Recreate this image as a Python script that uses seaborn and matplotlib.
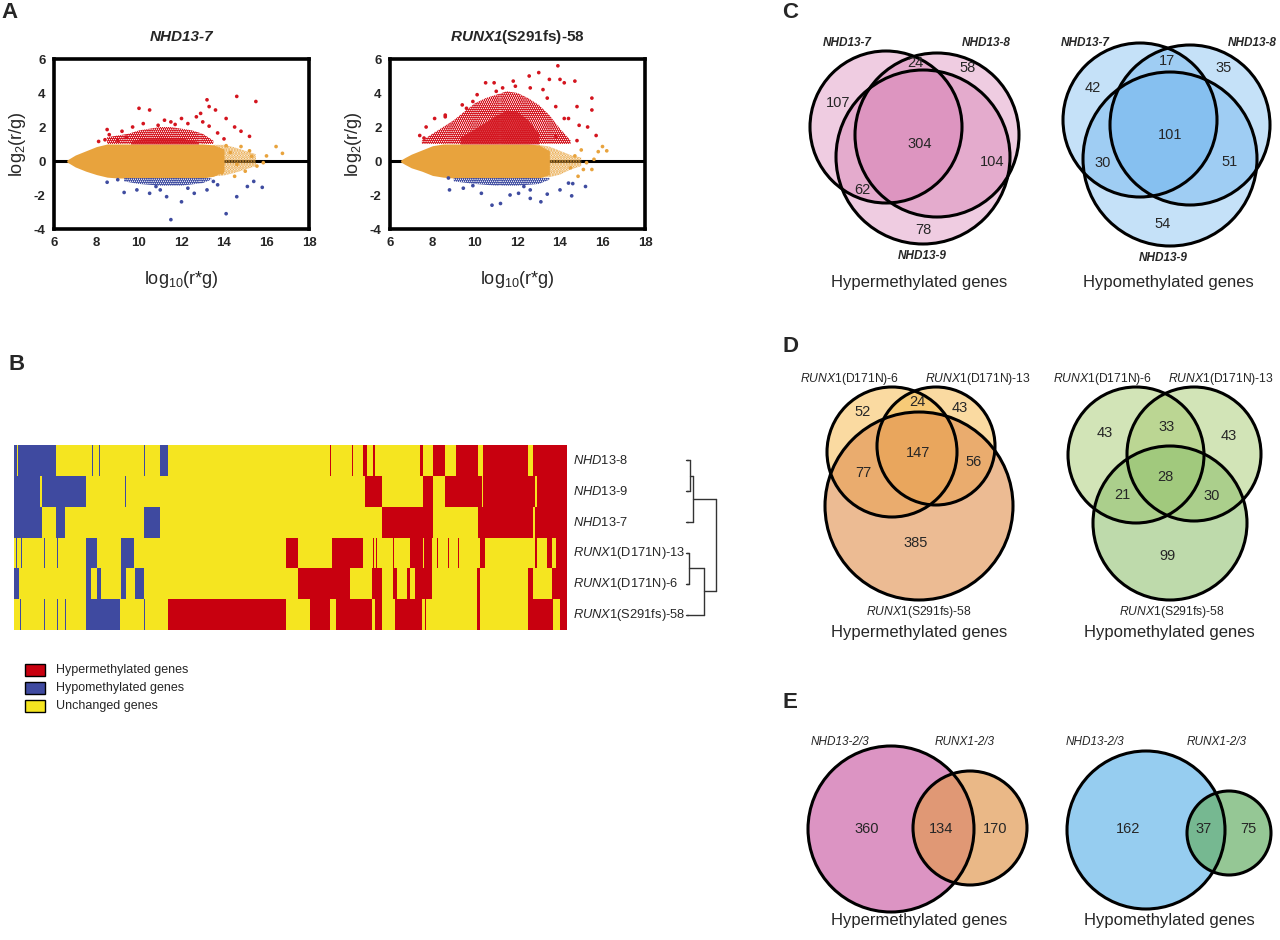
import numpy as np
import pandas as pd
import matplotlib
matplotlib.use("Agg")
import matplotlib.pyplot as plt
import seaborn as sns
from matplotlib.patches import Circle, Rectangle
from matplotlib.colors import ListedColormap

sns.set_style("white")
plt.rcParams['font.family'] = ['Liberation Sans', 'DejaVu Sans']
plt.rcParams['mathtext.fontset'] = 'custom'
plt.rcParams['mathtext.rm'] = 'Liberation Sans'
plt.rcParams['mathtext.it'] = 'Liberation Sans:italic'
plt.rcParams['mathtext.bf'] = 'Liberation Sans:bold'
plt.rcParams['mathtext.bfit'] = 'Liberation Sans:italic:bold'
plt.rcParams['axes.unicode_minus'] = False
plt.rcParams['hatch.linewidth'] = 1.6

# -------------------------------
# DATA  -  A: MA plots
# -------------------------------
ma_titles = ['NHD13-7', r'$\mathbfit{RUNX1}$(S291fs)-58']
ma_title_style = ['italic', 'normal']

# dense unchanged cloud (envelope)
nhd_core_x = [6.6, 6.8, 7.0, 7.5, 8.0, 8.5, 9.0, 10, 11, 12, 13, 13.5, 14.0]
nhd_core_up = [0.05, 0.2, 0.35, 0.6, 0.85, 1.0, 1.0, 1.0, 1.0, 1.0, 1.0, 0.95, 0.7]
nhd_core_lo = [-0.05, -0.2, -0.35, -0.6, -0.8, -0.95, -1.0, -1.0, -1.0, -1.0, -1.0, -0.9, -0.6]
nhd_sparse_x = [13.5, 14.0, 14.5, 15.0, 15.5]
nhd_sparse_up = [0.95, 0.95, 0.8, 0.6, 0.4]
nhd_sparse_lo = [-0.9, -0.85, -0.7, -0.5, -0.3]
nhd_or_x = [16.75, 16.45, 16.0, 15.85, 15.55, 15.3, 15.0, 14.8, 14.5, 14.3, 14.6, 15.2, 13.9, 14.1]
nhd_or_y = [0.45, 0.85, 0.3, -0.1, -0.3, 0.28, -0.6, 0.85, -0.9, 0.5, -0.2, 0.6, -0.7, 0.9]
# hyper band + outliers
nhd_redband_x = [8.5, 9.0, 9.5, 10, 10.5, 11, 11.5, 12, 12.5, 13, 13.5]
nhd_redband_up = [1.4, 1.5, 1.6, 1.8, 1.9, 2.0, 2.0, 1.9, 1.8, 1.6, 1.2]
nhd_redcore_x = [9.6, 10.0, 11.0, 12.0, 12.8]
nhd_redcore_up = [1.15, 1.3, 1.4, 1.35, 1.15]
nhd_red_x = [13.2, 14.6, 15.5, 10.0, 10.5, 13.3, 13.6, 12.7, 14.1, 14.5, 14.8, 15.2, 8.5, 8.6, 9.2, 9.7,
             10.9, 11.7, 12.3, 13.0, 13.3, 13.7, 8.4, 8.1, 9.0, 9.4, 11.2, 12.0, 12.9, 14.0, 11.5, 10.2]
nhd_red_y = [3.6, 3.8, 3.5, 3.1, 3.0, 3.2, 3.0, 2.6, 2.5, 2.0, 1.75, 1.45, 1.85, 1.55, 1.75, 2.0,
             2.1, 2.15, 2.2, 2.3, 2.05, 1.65, 1.25, 1.15, 1.2, 1.4, 2.4, 2.5, 2.8, 1.3, 2.3, 2.2]
# hypo band + outliers
nhd_blueband_x = [9.3, 10, 11, 12, 13, 13.4]
nhd_blueband_lo = [-1.2, -1.35, -1.45, -1.45, -1.3, -1.1]
nhd_blue_x = [8.5, 9.3, 9.9, 10.5, 11.3, 12.0, 12.6, 11.5, 14.1, 14.6, 15.1, 15.8, 15.4, 13.2, 13.7, 10.8,
              9.0, 12.3, 11.0, 13.5]
nhd_blue_y = [-1.25, -1.85, -1.7, -1.9, -2.1, -2.4, -1.9, -3.45, -3.1, -2.1, -1.5, -1.55, -1.2, -1.7, -1.4, -1.5,
              -1.1, -1.6, -1.7, -1.2]

runx_core_x = [6.5, 6.7, 7.0, 7.5, 8.0, 8.5, 9.0, 10, 11, 12, 12.5, 13.0, 13.5]
runx_core_up = [0.05, 0.2, 0.4, 0.65, 0.9, 1.0, 1.0, 1.0, 1.0, 1.0, 1.0, 0.95, 0.6]
runx_core_lo = [-0.05, -0.2, -0.4, -0.6, -0.85, -0.95, -1.0, -1.0, -1.0, -1.0, -1.0, -1.0, -0.8]
runx_sparse_x = [13.0, 13.5, 14.0, 14.5, 15.0]
runx_sparse_up = [0.95, 0.85, 0.6, 0.35, 0.2]
runx_sparse_lo = [-1.0, -0.95, -0.8, -0.5, -0.3]
runx_or_x = [15.6, 16.0, 15.8, 15.25, 15.1, 14.85, 14.5, 14.7, 15.0, 16.2, 15.5]
runx_or_y = [0.1, 0.85, 0.55, -0.1, -0.5, -0.9, -0.4, 0.3, 0.65, 0.6, -0.5]
runx_redband_x = [7.5, 8.0, 8.5, 9, 9.5, 10, 10.5, 11, 11.5, 12, 12.5, 13, 13.5, 14, 14.5]
runx_redband_up = [1.2, 1.6, 2.0, 2.4, 2.9, 3.4, 3.7, 3.9, 4.1, 4.0, 3.7, 3.3, 2.7, 1.9, 1.2]
runx_redcore_x = [9.3, 10.0, 10.5, 11.0, 11.5, 12.0, 12.5, 13.0]
runx_redcore_up = [1.4, 1.9, 2.3, 2.7, 3.0, 2.9, 2.4, 1.6]
runx_red_x = [13.9, 13.0, 12.55, 13.5, 10.5, 10.9, 11.8, 14.7, 14.2, 14.0, 15.5, 15.5, 14.8, 14.4, 14.9, 15.3,
              15.7, 14.8, 8.1, 8.6, 8.6, 7.7, 7.4, 7.6, 9.4, 9.6, 9.9, 10.1, 11.0, 11.3, 11.9, 12.6,
              13.2, 13.4, 13.8, 14.2, 13.8]
runx_red_y = [5.6, 5.2, 5.0, 4.8, 4.6, 4.6, 4.7, 4.7, 4.6, 4.8, 3.7, 3.0, 3.2, 2.5, 2.1, 2.0,
              1.5, 1.2, 2.5, 2.7, 2.6, 2.0, 1.5, 1.35, 3.3, 3.1, 3.5, 3.9, 4.1, 4.3, 4.4, 4.3,
              4.2, 3.7, 3.2, 2.5, 1.45]
runx_blueband_x = [9.0, 10, 11, 12, 13, 13.5]
runx_blueband_lo = [-1.2, -1.35, -1.45, -1.45, -1.35, -1.1]
runx_blue_x = [8.75, 8.8, 9.45, 9.9, 10.3, 10.8, 11.2, 11.65, 12.05, 12.6, 13.1, 13.4, 14.0, 14.55, 14.4,
               14.6, 15.2, 12.6, 12.3]
runx_blue_y = [-1.0, -1.7, -1.6, -1.45, -1.9, -2.6, -2.5, -2.0, -1.9, -2.2, -2.4, -1.95, -1.7, -2.05, -1.3,
               -1.33, -1.5, -1.7, -1.5]

# -------------------------------
# DATA  -  B: methylation status heatmap (gene index segments)
# -------------------------------
sample_labels = [r'$\it{NHD13}$-8', r'$\it{NHD13}$-9', r'$\it{NHD13}$-7',
                 r'$\it{RUNX1}$(D171N)-13', r'$\it{RUNX1}$(D171N)-6', r'$\it{RUNX1}$(S291fs)-58']
n_genes = 552
hypo_segments = [
    [(0, 3), (4, 42), (78, 79), (85, 86), (130, 131), (146, 154)],
    [(0, 26), (28, 72), (111, 112)],
    [(0, 28), (42, 51), (130, 146)],
    [(2, 3), (7, 8), (30, 31), (43, 44), (72, 83), (107, 120)],
    [(0, 5), (72, 77), (83, 87), (107, 112), (121, 130)],
    [(6, 7), (30, 31), (43, 44), (51, 52), (72, 106), (130, 131)],
]
hyper_segments = [
    [(315, 316), (337, 338), (348, 352), (358, 360), (405, 408), (418, 430), (441, 463), (468, 513), (518, 552)],
    [(350, 367), (408, 418), (430, 467), (468, 520), (522, 552)],
    [(367, 418), (463, 518), (520, 552)],
    [(272, 283), (317, 348), (358, 359), (361, 362), (378, 379), (395, 408), (409, 417), (422, 423),
     (433, 434), (443, 444), (465, 470), (520, 522), (532, 537), (541, 552)],
    [(283, 335), (357, 367), (378, 382), (392, 395), (400, 417), (462, 465), (513, 518), (537, 552)],
    [(154, 272), (295, 315), (321, 357), (360, 367), (380, 407), (410, 411), (462, 465), (513, 538), (545, 552)],
]
# dendrogram merges: (child a, child b, height); leaves 0-5 top to bottom
dendro_merges = [(0, 1, 3), (6, 2, 6), (3, 4, 2), (8, 5, 17), (7, 9, 29)]
status_names = ['Hypermethylated genes', 'Hypomethylated genes', 'Unchanged genes']

# -------------------------------
# DATA  -  C/D/E: Venn counts
# -------------------------------
venn_titles = ['Hypermethylated genes', 'Hypomethylated genes']
c_sets = ['NHD13-7', 'NHD13-8', 'NHD13-9']
c_hyper = {'a': 107, 'b': 58, 'c': 78, 'ab': 24, 'ac': 62, 'bc': 104, 'abc': 304}
c_hypo = {'a': 42, 'b': 35, 'c': 54, 'ab': 17, 'ac': 30, 'bc': 51, 'abc': 101}
d_sets = [r'$\it{RUNX1}$(D171N)-6', r'$\it{RUNX1}$(D171N)-13', r'$\it{RUNX1}$(S291fs)-58']
d_hyper = {'a': 52, 'b': 43, 'c': 385, 'ab': 24, 'ac': 77, 'bc': 56, 'abc': 147}
d_hypo = {'a': 43, 'b': 43, 'c': 99, 'ab': 33, 'ac': 21, 'bc': 30, 'abc': 28}
e_sets = ['NHD13-2/3', 'RUNX1-2/3']
e_hyper = {'a': 360, 'ab': 134, 'b': 170}
e_hypo = {'a': 162, 'ab': 37, 'b': 75}

# -------------------------------
# COLOURS
# -------------------------------
RED = '#d4151f'
ORANGE = '#e8a33d'
BLUE = '#3f4ca0'
HM_RED, HM_BLUE, HM_YEL = '#c8000f', '#3f4aa0', '#f5e520'

W, H = 1280, 940
fig = plt.figure(figsize=(12.8, 9.4), dpi=100)


def px_axes(x0, y0, x1, y1):
    return fig.add_axes([x0 / W, 1 - y1 / H, (x1 - x0) / W, (y1 - y0) / H])


def draw_ma(ax, title, tstyle, core, sparse, orange_pts, redband, redcore, red_pts, blueband, blue_pts):
    ax.axhline(0, color='black', lw=2.2, zorder=1)
    ax.fill_between(sparse[0], sparse[2], sparse[1], facecolor='none', edgecolor=ORANGE,
                    hatch='......', lw=0, zorder=2)
    ax.fill_between(core[0], core[2], core[1], color=ORANGE, lw=0, zorder=2)
    ax.fill_between(redband[0], 1.0, redband[1], facecolor='none', edgecolor=RED,
                    hatch='........', lw=0, zorder=2)
    ax.fill_between(redcore[0], 1.0, redcore[1], color=RED, alpha=0.8, lw=0, zorder=2)
    ax.fill_between(blueband[0], blueband[1], -1.0, facecolor='none', edgecolor=BLUE,
                    hatch='........', lw=0, zorder=2)
    pts = pd.DataFrame({
        'x': list(orange_pts[0]) + list(red_pts[0]) + list(blue_pts[0]),
        'y': list(orange_pts[1]) + list(red_pts[1]) + list(blue_pts[1]),
        'cls': ['u'] * len(orange_pts[0]) + ['r'] * len(red_pts[0]) + ['b'] * len(blue_pts[0]),
    })
    sns.scatterplot(data=pts, x='x', y='y', hue='cls', palette={'u': ORANGE, 'r': RED, 'b': BLUE},
                    s=7, linewidth=0, legend=False, ax=ax, zorder=3)
    ax.set_xlim(6, 18)
    ax.set_ylim(-4, 6)
    ax.set_xticks(range(6, 19, 2))
    ax.set_yticks(range(-4, 7, 2))
    for s in ax.spines.values():
        s.set_linewidth(2.6)
        s.set_color('black')
    ax.tick_params(direction='out', length=4, width=2, labelsize=9.5, pad=2)
    for t in ax.get_xticklabels() + ax.get_yticklabels():
        t.set_fontweight('bold')
    ax.set_xlabel(r'log$_{10}$(r*g)', fontsize=13, labelpad=14)
    ax.set_ylabel(r'log$_{2}$(r/g)', fontsize=13, labelpad=4)
    ax.set_title(title, fontsize=11, fontweight='bold', fontstyle=tstyle, pad=13)


ax1 = px_axes(54, 59, 309, 229)
draw_ma(ax1, ma_titles[0], ma_title_style[0], (nhd_core_x, nhd_core_up, nhd_core_lo),
        (nhd_sparse_x, nhd_sparse_up, nhd_sparse_lo), (nhd_or_x, nhd_or_y),
        (nhd_redband_x, nhd_redband_up), (nhd_redcore_x, nhd_redcore_up), (nhd_red_x, nhd_red_y),
        (nhd_blueband_x, nhd_blueband_lo), (nhd_blue_x, nhd_blue_y))
ax2 = px_axes(390, 59, 645, 229)
draw_ma(ax2, ma_titles[1], ma_title_style[1], (runx_core_x, runx_core_up, runx_core_lo),
        (runx_sparse_x, runx_sparse_up, runx_sparse_lo), (runx_or_x, runx_or_y),
        (runx_redband_x, runx_redband_up), (runx_redcore_x, runx_redcore_up), (runx_red_x, runx_red_y),
        (runx_blueband_x, runx_blueband_lo), (runx_blue_x, runx_blue_y))

# -------------------------------
# B: heatmap
# -------------------------------
status = np.zeros((len(sample_labels), n_genes))
for i in range(len(sample_labels)):
    for a, b in hypo_segments[i]:
        status[i, a:b] = -1
    for a, b in hyper_segments[i]:
        status[i, a:b] = 1
axh = px_axes(14, 445, 567, 630)
sns.heatmap(status, ax=axh, cmap=ListedColormap([HM_BLUE, HM_YEL, HM_RED]), vmin=-1, vmax=1,
            cbar=False, xticklabels=False, yticklabels=False)

# overlay in pixel space for text, dendrogram, legend and Venns
ov = fig.add_axes([0, 0, 1, 1])
ov.set_xlim(0, W)
ov.set_ylim(H, 0)
ov.axis('off')

row_top, row_h = 445, 185 / 6
for i, lab in enumerate(sample_labels):
    ov.text(573, row_top + row_h * (i + 0.5), lab, fontsize=9.3, va='center', ha='left')

# dendrogram
leaf_x0, dscale = 687, 1.0
node_y = {i: row_top + row_h * (i + 0.5) for i in range(6)}
node_h = {i: 0.0 for i in range(6)}
for k, (a, b, h) in enumerate(dendro_merges):
    nid = 6 + k
    xm = leaf_x0 + h * dscale
    for c in (a, b):
        ov.plot([leaf_x0 + node_h[c] * dscale, xm], [node_y[c], node_y[c]], color='#333333', lw=1.0)
    ov.plot([xm, xm], [node_y[a], node_y[b]], color='#333333', lw=1.0)
    node_y[nid] = (node_y[a] + node_y[b]) / 2
    node_h[nid] = h
for i in range(6):
    ov.plot([leaf_x0 - 1, leaf_x0 + 0.5], [node_y[i], node_y[i]], color='#333333', lw=1.0)

# legend
for i, (name, col) in enumerate(zip(status_names, [HM_RED, HM_BLUE, HM_YEL])):
    yc = 670 + 18 * i
    ov.add_patch(Rectangle((25, yc - 6), 20, 12, facecolor=col, edgecolor='black', lw=1.0))
    ov.text(56, yc, name, fontsize=9, va='center', ha='left')

# panel letters
for letter, (lx, ly) in zip('ABCDE', [(1, 13), (9, 364), (782, 12), (782, 346), (783, 703)]):
    ov.text(lx, ly, letter, fontsize=16, fontweight='bold', va='center', ha='left')


# -------------------------------
# Venn diagrams
# -------------------------------
def venn(circles, counts, count_pos, labels, label_pos, title, title_pos, label_kw):
    for cx, cy, r, col, al in circles:
        ov.add_patch(Circle((cx, cy), r, facecolor=col, alpha=al, lw=0))
    for cx, cy, r, col, al in circles:
        ov.add_patch(Circle((cx, cy), r, facecolor='none', edgecolor='black', lw=2.2))
    for key, val in counts.items():
        x, y = count_pos[key]
        ov.text(x, y, str(val), fontsize=10.5, ha='center', va='center')
    for lab, (x, y) in zip(labels, label_pos):
        ov.text(x, y, lab, ha='center', va='center', **label_kw)
    ov.text(title_pos[0], title_pos[1], title, fontsize=12, ha='center', va='center')


PINK, SKY = '#d26eaa', '#5aaaeb'
c_kw = dict(fontsize=8.5, fontstyle='italic', fontweight='bold')
d_kw = dict(fontsize=8.7)
e_kw = dict(fontsize=8.5, fontstyle='italic')
venn([(886, 127, 76, PINK, 0.35), (937, 135, 82, PINK, 0.35), (923, 157, 87, PINK, 0.35)],
     c_hyper, {'a': (838, 103), 'b': (968, 68), 'c': (923, 230), 'ab': (915, 63),
               'ac': (862, 190), 'bc': (992, 162), 'abc': (920, 144)},
     c_sets, [(847, 43), (986, 43), (922, 256)], venn_titles[0], (919, 283), c_kw)
venn([(1140, 120, 77, SKY, 0.35), (1190, 125, 80, SKY, 0.35), (1170, 159, 87, SKY, 0.35)],
     c_hypo, {'a': (1093, 88), 'b': (1224, 68), 'c': (1163, 224), 'ab': (1167, 61),
              'ac': (1103, 163), 'bc': (1230, 162), 'abc': (1170, 135)},
     c_sets, [(1085, 43), (1252, 43), (1163, 258)], venn_titles[1], (1168, 283), c_kw)

venn([(892, 452, 65, '#f6bd55', 0.55), (936, 446, 59, '#f6bd55', 0.55), (919, 506, 94, '#e08e4c', 0.6)],
     d_hyper, {'a': (863, 412), 'b': (960, 408), 'c': (916, 543), 'ab': (917, 402),
               'ac': (863, 473), 'bc': (974, 462), 'abc': (918, 453)},
     d_sets, [(850, 379), (978, 379), (919, 612)], venn_titles[0], (919, 632), d_kw)
venn([(1136, 455, 68, '#a6ca70', 0.5), (1194, 454, 67, '#a6ca70', 0.5), (1170, 523, 77, '#8fc06e', 0.58)],
     d_hypo, {'a': (1105, 433), 'b': (1229, 436), 'c': (1168, 556), 'ab': (1167, 427),
              'ac': (1122, 495), 'bc': (1212, 496), 'abc': (1165, 477)},
     d_sets, [(1103, 379), (1221, 379), (1172, 612)], venn_titles[1], (1169, 632), d_kw)

venn([(891, 829, 83, '#dc94c3', 1.0), (970, 828, 57, '#e29b54', 0.7)],
     e_hyper, {'a': (867, 829), 'ab': (941, 829), 'b': (995, 829)},
     e_sets, [(840, 742), (965, 742)], venn_titles[0], (919, 920), e_kw)
venn([(1146, 830, 79, '#96cdf0', 1.0), (1229, 833, 42, '#69b069', 0.7)],
     e_hypo, {'a': (1128, 829), 'ab': (1204, 829), 'b': (1248, 829)},
     e_sets, [(1095, 742), (1217, 742)], venn_titles[1], (1169, 920), e_kw)

plt.savefig('out.png', dpi=100)
